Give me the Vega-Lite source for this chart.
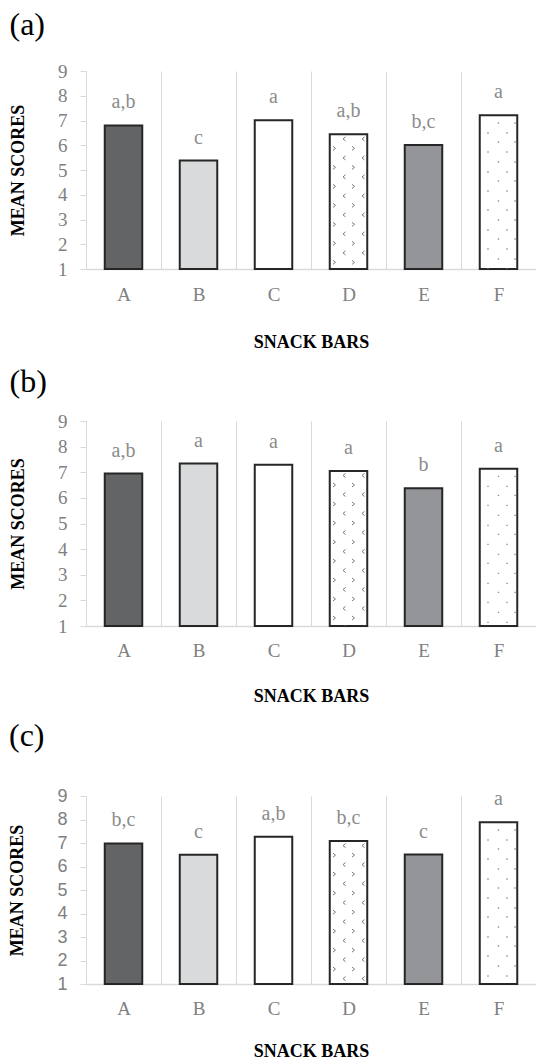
{
  "$schema": "https://vega.github.io/schema/vega-lite/v6.json",
  "padding": {"left": 8, "top": 9, "right": 1, "bottom": 0},
  "spacing": 15,
  "datasets": {
    "scores": [
      {"panel": "a", "snack": "A", "value": 6.8, "letters": "a,b"},
      {"panel": "a", "snack": "B", "value": 5.38, "letters": "c"},
      {"panel": "a", "snack": "C", "value": 7.01, "letters": "a"},
      {"panel": "a", "snack": "D", "value": 6.44, "letters": "a,b"},
      {"panel": "a", "snack": "E", "value": 6.01, "letters": "b,c"},
      {"panel": "a", "snack": "F", "value": 7.21, "letters": "a"},
      {"panel": "b", "snack": "A", "value": 6.95, "letters": "a,b"},
      {"panel": "b", "snack": "B", "value": 7.34, "letters": "a"},
      {"panel": "b", "snack": "C", "value": 7.29, "letters": "a"},
      {"panel": "b", "snack": "D", "value": 7.05, "letters": "a"},
      {"panel": "b", "snack": "E", "value": 6.38, "letters": "b"},
      {"panel": "b", "snack": "F", "value": 7.14, "letters": "a"},
      {"panel": "c", "snack": "A", "value": 6.98, "letters": "b,c"},
      {"panel": "c", "snack": "B", "value": 6.5, "letters": "c"},
      {"panel": "c", "snack": "C", "value": 7.27, "letters": "a,b"},
      {"panel": "c", "snack": "D", "value": 7.08, "letters": "b,c"},
      {"panel": "c", "snack": "E", "value": 6.51, "letters": "c"},
      {"panel": "c", "snack": "F", "value": 7.88, "letters": "a"}
    ]
  },
  "vconcat": [
    {
      "data": {"name": "scores"},
      "transform": [{"filter": "datum.panel == 'a'"}],
      "title": {"text": "(a)", "anchor": "start", "frame": "bounds", "font": "Liberation Serif", "fontSize": 32, "fontWeight": "normal", "color": "#000000", "baseline": "top", "offset": 20},
      "width": 450,
      "height": 198,
      "encoding": {
        "x": {"field": "snack", "type": "nominal", "scale": {"paddingInner": 0, "paddingOuter": 0},
          "axis": {"title": "SNACK BARS", "labelAngle": 0, "ticks": false, "tickSize": 0, "domainColor": "#d9d9d9", "domainWidth": 1.5, "grid": true, "gridColor": "#d9d9d9", "gridWidth": 1, "tickBand": "extent", "labelFont": "Liberation Serif", "labelFontSize": 19, "labelColor": "#808080", "labelPadding": 16, "titleFont": "Liberation Serif", "titleFontWeight": "bold", "titleFontSize": 18, "titleColor": "#000000", "titlePadding": 29}},
        "y": {"field": "value", "type": "quantitative", "scale": {"domain": [1, 9], "nice": false, "zero": false},
          "axis": {"values": [1, 2, 3, 4, 5, 6, 7, 8, 9], "grid": false, "domainColor": "#d9d9d9", "domainWidth": 1, "tickColor": "#d9d9d9", "tickSize": 6, "labelFont": "Liberation Serif", "labelFontSize": 19, "labelColor": "#808080", "labelPadding": 13, "labelFlush": false, "labelOverlap": false, "title": "MEAN SCORES", "titleFont": "Liberation Serif", "titleFontWeight": "bold", "titleFontSize": 18, "titleColor": "#000000", "titlePadding": 30}}
      },
      "layer": [
        {"mark": {"type": "bar", "width": {"band": 0.5}, "stroke": "#262626", "strokeWidth": 2},
          "encoding": {"y2": {"datum": 1}, "color": {"field": "snack", "type": "nominal", "legend": null, "scale": {"domain": ["A", "B", "C", "D", "E", "F"], "range": ["#636466", "#d9dadb", "#ffffff", "#ffffff", "#939598", "#ffffff"]}}}},
        {"transform": [{"filter": "datum.snack == 'D'"}],
          "mark": {"type": "point", "clip": true, "size": 4, "filled": false, "opacity": 1, "stroke": "#7a7a7a", "strokeWidth": 1, "shape": "M-3,2.5l-2.5,2l2.5,2M16,2.5l-2.5,2l2.5,2M-15.5,12l2.5,2l-2.5,2M3.5,12l2.5,2l-2.5,2M-3,21.5l-2.5,2l2.5,2M16,21.5l-2.5,2l2.5,2M-15.5,31l2.5,2l-2.5,2M3.5,31l2.5,2l-2.5,2M-3,40.5l-2.5,2l2.5,2M16,40.5l-2.5,2l2.5,2M-15.5,50l2.5,2l-2.5,2M3.5,50l2.5,2l-2.5,2M-3,59.5l-2.5,2l2.5,2M16,59.5l-2.5,2l2.5,2M-15.5,69l2.5,2l-2.5,2M3.5,69l2.5,2l-2.5,2M-3,78.5l-2.5,2l2.5,2M16,78.5l-2.5,2l2.5,2M-15.5,88l2.5,2l-2.5,2M3.5,88l2.5,2l-2.5,2M-3,97.5l-2.5,2l2.5,2M16,97.5l-2.5,2l2.5,2M-15.5,107l2.5,2l-2.5,2M3.5,107l2.5,2l-2.5,2M-3,116.5l-2.5,2l2.5,2M16,116.5l-2.5,2l2.5,2M-15.5,126l2.5,2l-2.5,2M3.5,126l2.5,2l-2.5,2M-3,135.5l-2.5,2l2.5,2M16,135.5l-2.5,2l2.5,2M-15.5,145l2.5,2l-2.5,2M3.5,145l2.5,2l-2.5,2M-3,154.5l-2.5,2l2.5,2M16,154.5l-2.5,2l2.5,2M-15.5,164l2.5,2l-2.5,2M3.5,164l2.5,2l-2.5,2M-3,173.5l-2.5,2l2.5,2M16,173.5l-2.5,2l2.5,2M-15.5,183l2.5,2l-2.5,2M3.5,183l2.5,2l-2.5,2"}},
        {"transform": [{"filter": "datum.snack == 'F'"}],
          "mark": {"type": "point", "clip": true, "size": 4, "filled": true, "opacity": 1, "fill": "#8f8f8f", "strokeWidth": 0, "shape": "M-0.7,7h1.4v1.4h-1.4zM15.8,7h1.4v1.4h-1.4zM-11.2,17h1.4v1.4h-1.4zM7.8,17h1.4v1.4h-1.4zM-0.7,26h1.4v1.4h-1.4zM15.8,26h1.4v1.4h-1.4zM-11.2,36h1.4v1.4h-1.4zM7.8,36h1.4v1.4h-1.4zM-0.7,46h1.4v1.4h-1.4zM15.8,46h1.4v1.4h-1.4zM-11.2,56h1.4v1.4h-1.4zM7.8,56h1.4v1.4h-1.4zM-0.7,65h1.4v1.4h-1.4zM15.8,65h1.4v1.4h-1.4zM-11.2,75h1.4v1.4h-1.4zM7.8,75h1.4v1.4h-1.4zM-0.7,85h1.4v1.4h-1.4zM15.8,85h1.4v1.4h-1.4zM-11.2,94h1.4v1.4h-1.4zM7.8,94h1.4v1.4h-1.4zM-0.7,104h1.4v1.4h-1.4zM15.8,104h1.4v1.4h-1.4zM-11.2,114h1.4v1.4h-1.4zM7.8,114h1.4v1.4h-1.4zM-0.7,123h1.4v1.4h-1.4zM15.8,123h1.4v1.4h-1.4zM-11.2,133h1.4v1.4h-1.4zM7.8,133h1.4v1.4h-1.4zM-0.7,143h1.4v1.4h-1.4zM15.8,143h1.4v1.4h-1.4zM-11.2,153h1.4v1.4h-1.4zM7.8,153h1.4v1.4h-1.4zM-0.7,162h1.4v1.4h-1.4zM15.8,162h1.4v1.4h-1.4zM-11.2,172h1.4v1.4h-1.4zM7.8,172h1.4v1.4h-1.4zM-0.7,182h1.4v1.4h-1.4zM15.8,182h1.4v1.4h-1.4zM-11.2,191h1.4v1.4h-1.4zM7.8,191h1.4v1.4h-1.4z"}},
        {"mark": {"type": "text", "font": "Liberation Serif", "fontSize": 20, "color": "#8c8c8c", "dy": -17, "baseline": "alphabetic"},
          "encoding": {"text": {"field": "letters", "type": "nominal"}}}
      ]
    },
    {
      "data": {"name": "scores"},
      "transform": [{"filter": "datum.panel == 'b'"}],
      "title": {"text": "(b)", "anchor": "start", "frame": "bounds", "font": "Liberation Serif", "fontSize": 32, "fontWeight": "normal", "color": "#000000", "baseline": "top", "offset": 13},
      "width": 450,
      "height": 205,
      "encoding": {
        "x": {"field": "snack", "type": "nominal", "scale": {"paddingInner": 0, "paddingOuter": 0},
          "axis": {"title": "SNACK BARS", "labelAngle": 0, "ticks": false, "tickSize": 0, "domainColor": "#d9d9d9", "domainWidth": 1.5, "grid": true, "gridColor": "#d9d9d9", "gridWidth": 1, "tickBand": "extent", "labelFont": "Liberation Serif", "labelFontSize": 19, "labelColor": "#808080", "labelPadding": 15, "titleFont": "Liberation Serif", "titleFontWeight": "bold", "titleFontSize": 18, "titleColor": "#000000", "titlePadding": 27}},
        "y": {"field": "value", "type": "quantitative", "scale": {"domain": [1, 9], "nice": false, "zero": false},
          "axis": {"values": [1, 2, 3, 4, 5, 6, 7, 8, 9], "grid": false, "domainColor": "#d9d9d9", "domainWidth": 1, "tickColor": "#d9d9d9", "tickSize": 6, "labelFont": "Liberation Serif", "labelFontSize": 19, "labelColor": "#808080", "labelPadding": 13, "labelFlush": false, "labelOverlap": false, "title": "MEAN SCORES", "titleFont": "Liberation Serif", "titleFontWeight": "bold", "titleFontSize": 18, "titleColor": "#000000", "titlePadding": 30}}
      },
      "layer": [
        {"mark": {"type": "bar", "width": {"band": 0.5}, "stroke": "#262626", "strokeWidth": 2},
          "encoding": {"y2": {"datum": 1}, "color": {"field": "snack", "type": "nominal", "legend": null, "scale": {"domain": ["A", "B", "C", "D", "E", "F"], "range": ["#636466", "#d9dadb", "#ffffff", "#ffffff", "#939598", "#ffffff"]}}}},
        {"transform": [{"filter": "datum.snack == 'D'"}],
          "mark": {"type": "point", "clip": true, "size": 4, "filled": false, "opacity": 1, "stroke": "#7a7a7a", "strokeWidth": 1, "shape": "M-3,2.5l-2.5,2l2.5,2M16,2.5l-2.5,2l2.5,2M-15.5,12l2.5,2l-2.5,2M3.5,12l2.5,2l-2.5,2M-3,21.5l-2.5,2l2.5,2M16,21.5l-2.5,2l2.5,2M-15.5,31l2.5,2l-2.5,2M3.5,31l2.5,2l-2.5,2M-3,40.5l-2.5,2l2.5,2M16,40.5l-2.5,2l2.5,2M-15.5,50l2.5,2l-2.5,2M3.5,50l2.5,2l-2.5,2M-3,59.5l-2.5,2l2.5,2M16,59.5l-2.5,2l2.5,2M-15.5,69l2.5,2l-2.5,2M3.5,69l2.5,2l-2.5,2M-3,78.5l-2.5,2l2.5,2M16,78.5l-2.5,2l2.5,2M-15.5,88l2.5,2l-2.5,2M3.5,88l2.5,2l-2.5,2M-3,97.5l-2.5,2l2.5,2M16,97.5l-2.5,2l2.5,2M-15.5,107l2.5,2l-2.5,2M3.5,107l2.5,2l-2.5,2M-3,116.5l-2.5,2l2.5,2M16,116.5l-2.5,2l2.5,2M-15.5,126l2.5,2l-2.5,2M3.5,126l2.5,2l-2.5,2M-3,135.5l-2.5,2l2.5,2M16,135.5l-2.5,2l2.5,2M-15.5,145l2.5,2l-2.5,2M3.5,145l2.5,2l-2.5,2M-3,154.5l-2.5,2l2.5,2M16,154.5l-2.5,2l2.5,2M-15.5,164l2.5,2l-2.5,2M3.5,164l2.5,2l-2.5,2M-3,173.5l-2.5,2l2.5,2M16,173.5l-2.5,2l2.5,2M-15.5,183l2.5,2l-2.5,2M3.5,183l2.5,2l-2.5,2"}},
        {"transform": [{"filter": "datum.snack == 'F'"}],
          "mark": {"type": "point", "clip": true, "size": 4, "filled": true, "opacity": 1, "fill": "#8f8f8f", "strokeWidth": 0, "shape": "M-0.7,7h1.4v1.4h-1.4zM15.8,7h1.4v1.4h-1.4zM-11.2,17h1.4v1.4h-1.4zM7.8,17h1.4v1.4h-1.4zM-0.7,26h1.4v1.4h-1.4zM15.8,26h1.4v1.4h-1.4zM-11.2,36h1.4v1.4h-1.4zM7.8,36h1.4v1.4h-1.4zM-0.7,46h1.4v1.4h-1.4zM15.8,46h1.4v1.4h-1.4zM-11.2,56h1.4v1.4h-1.4zM7.8,56h1.4v1.4h-1.4zM-0.7,65h1.4v1.4h-1.4zM15.8,65h1.4v1.4h-1.4zM-11.2,75h1.4v1.4h-1.4zM7.8,75h1.4v1.4h-1.4zM-0.7,85h1.4v1.4h-1.4zM15.8,85h1.4v1.4h-1.4zM-11.2,94h1.4v1.4h-1.4zM7.8,94h1.4v1.4h-1.4zM-0.7,104h1.4v1.4h-1.4zM15.8,104h1.4v1.4h-1.4zM-11.2,114h1.4v1.4h-1.4zM7.8,114h1.4v1.4h-1.4zM-0.7,123h1.4v1.4h-1.4zM15.8,123h1.4v1.4h-1.4zM-11.2,133h1.4v1.4h-1.4zM7.8,133h1.4v1.4h-1.4zM-0.7,143h1.4v1.4h-1.4zM15.8,143h1.4v1.4h-1.4zM-11.2,153h1.4v1.4h-1.4zM7.8,153h1.4v1.4h-1.4zM-0.7,162h1.4v1.4h-1.4zM15.8,162h1.4v1.4h-1.4zM-11.2,172h1.4v1.4h-1.4zM7.8,172h1.4v1.4h-1.4zM-0.7,182h1.4v1.4h-1.4zM15.8,182h1.4v1.4h-1.4zM-11.2,191h1.4v1.4h-1.4zM7.8,191h1.4v1.4h-1.4z"}},
        {"mark": {"type": "text", "font": "Liberation Serif", "fontSize": 20, "color": "#8c8c8c", "dy": -17, "baseline": "alphabetic"},
          "encoding": {"text": {"field": "letters", "type": "nominal"}}}
      ]
    },
    {
      "data": {"name": "scores"},
      "transform": [{"filter": "datum.panel == 'c'"}],
      "title": {"text": "(c)", "anchor": "start", "frame": "bounds", "font": "Liberation Serif", "fontSize": 32, "fontWeight": "normal", "color": "#000000", "baseline": "top", "offset": 34},
      "width": 450,
      "height": 188,
      "encoding": {
        "x": {"field": "snack", "type": "nominal", "scale": {"paddingInner": 0, "paddingOuter": 0},
          "axis": {"title": "SNACK BARS", "labelAngle": 0, "ticks": false, "tickSize": 0, "domainColor": "#d9d9d9", "domainWidth": 1.5, "grid": true, "gridColor": "#d9d9d9", "gridWidth": 1, "tickBand": "extent", "labelFont": "Liberation Serif", "labelFontSize": 19, "labelColor": "#808080", "labelPadding": 15, "titleFont": "Liberation Serif", "titleFontWeight": "bold", "titleFontSize": 18, "titleColor": "#000000", "titlePadding": 24}},
        "y": {"field": "value", "type": "quantitative", "scale": {"domain": [1, 9], "nice": false, "zero": false},
          "axis": {"values": [1, 2, 3, 4, 5, 6, 7, 8, 9], "grid": false, "domainColor": "#d9d9d9", "domainWidth": 1, "tickColor": "#d9d9d9", "tickSize": 6, "labelFont": "Liberation Sans", "labelFontSize": 18, "labelColor": "#808080", "labelPadding": 13, "labelFlush": false, "labelOverlap": false, "title": "MEAN SCORES", "titleFont": "Liberation Serif", "titleFontWeight": "bold", "titleFontSize": 18, "titleColor": "#000000", "titlePadding": 30}}
      },
      "layer": [
        {"mark": {"type": "bar", "width": {"band": 0.5}, "stroke": "#262626", "strokeWidth": 2},
          "encoding": {"y2": {"datum": 1}, "color": {"field": "snack", "type": "nominal", "legend": null, "scale": {"domain": ["A", "B", "C", "D", "E", "F"], "range": ["#636466", "#d9dadb", "#ffffff", "#ffffff", "#939598", "#ffffff"]}}}},
        {"transform": [{"filter": "datum.snack == 'D'"}],
          "mark": {"type": "point", "clip": true, "size": 4, "filled": false, "opacity": 1, "stroke": "#7a7a7a", "strokeWidth": 1, "shape": "M-3,2.5l-2.5,2l2.5,2M16,2.5l-2.5,2l2.5,2M-15.5,12l2.5,2l-2.5,2M3.5,12l2.5,2l-2.5,2M-3,21.5l-2.5,2l2.5,2M16,21.5l-2.5,2l2.5,2M-15.5,31l2.5,2l-2.5,2M3.5,31l2.5,2l-2.5,2M-3,40.5l-2.5,2l2.5,2M16,40.5l-2.5,2l2.5,2M-15.5,50l2.5,2l-2.5,2M3.5,50l2.5,2l-2.5,2M-3,59.5l-2.5,2l2.5,2M16,59.5l-2.5,2l2.5,2M-15.5,69l2.5,2l-2.5,2M3.5,69l2.5,2l-2.5,2M-3,78.5l-2.5,2l2.5,2M16,78.5l-2.5,2l2.5,2M-15.5,88l2.5,2l-2.5,2M3.5,88l2.5,2l-2.5,2M-3,97.5l-2.5,2l2.5,2M16,97.5l-2.5,2l2.5,2M-15.5,107l2.5,2l-2.5,2M3.5,107l2.5,2l-2.5,2M-3,116.5l-2.5,2l2.5,2M16,116.5l-2.5,2l2.5,2M-15.5,126l2.5,2l-2.5,2M3.5,126l2.5,2l-2.5,2M-3,135.5l-2.5,2l2.5,2M16,135.5l-2.5,2l2.5,2M-15.5,145l2.5,2l-2.5,2M3.5,145l2.5,2l-2.5,2M-3,154.5l-2.5,2l2.5,2M16,154.5l-2.5,2l2.5,2M-15.5,164l2.5,2l-2.5,2M3.5,164l2.5,2l-2.5,2M-3,173.5l-2.5,2l2.5,2M16,173.5l-2.5,2l2.5,2M-15.5,183l2.5,2l-2.5,2M3.5,183l2.5,2l-2.5,2"}},
        {"transform": [{"filter": "datum.snack == 'F'"}],
          "mark": {"type": "point", "clip": true, "size": 4, "filled": true, "opacity": 1, "fill": "#8f8f8f", "strokeWidth": 0, "shape": "M-0.7,7h1.4v1.4h-1.4zM15.8,7h1.4v1.4h-1.4zM-11.2,17h1.4v1.4h-1.4zM7.8,17h1.4v1.4h-1.4zM-0.7,26h1.4v1.4h-1.4zM15.8,26h1.4v1.4h-1.4zM-11.2,36h1.4v1.4h-1.4zM7.8,36h1.4v1.4h-1.4zM-0.7,46h1.4v1.4h-1.4zM15.8,46h1.4v1.4h-1.4zM-11.2,56h1.4v1.4h-1.4zM7.8,56h1.4v1.4h-1.4zM-0.7,65h1.4v1.4h-1.4zM15.8,65h1.4v1.4h-1.4zM-11.2,75h1.4v1.4h-1.4zM7.8,75h1.4v1.4h-1.4zM-0.7,85h1.4v1.4h-1.4zM15.8,85h1.4v1.4h-1.4zM-11.2,94h1.4v1.4h-1.4zM7.8,94h1.4v1.4h-1.4zM-0.7,104h1.4v1.4h-1.4zM15.8,104h1.4v1.4h-1.4zM-11.2,114h1.4v1.4h-1.4zM7.8,114h1.4v1.4h-1.4zM-0.7,123h1.4v1.4h-1.4zM15.8,123h1.4v1.4h-1.4zM-11.2,133h1.4v1.4h-1.4zM7.8,133h1.4v1.4h-1.4zM-0.7,143h1.4v1.4h-1.4zM15.8,143h1.4v1.4h-1.4zM-11.2,153h1.4v1.4h-1.4zM7.8,153h1.4v1.4h-1.4zM-0.7,162h1.4v1.4h-1.4zM15.8,162h1.4v1.4h-1.4zM-11.2,172h1.4v1.4h-1.4zM7.8,172h1.4v1.4h-1.4zM-0.7,182h1.4v1.4h-1.4zM15.8,182h1.4v1.4h-1.4zM-11.2,191h1.4v1.4h-1.4zM7.8,191h1.4v1.4h-1.4z"}},
        {"mark": {"type": "text", "font": "Liberation Serif", "fontSize": 20, "color": "#8c8c8c", "dy": -17, "baseline": "alphabetic"},
          "encoding": {"text": {"field": "letters", "type": "nominal"}}}
      ]
    }
  ],
  "config": {"view": {"stroke": null}, "background": "#ffffff"}
}
